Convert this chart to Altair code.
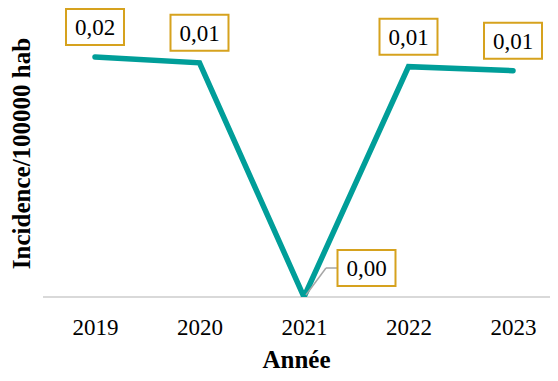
import altair as alt
import pandas as pd

years = ["2019", "2020", "2021", "2022", "2023"]
incidence = [0.0151, 0.01473, 0.0, 0.01449, 0.01424]

df = pd.DataFrame({"annee": years, "incidence": incidence})

FONT = "Liberation Serif"
TEAL = "#009E99"
GOLD = "#D6A21E"
BOX = "M-1.611,-1L1.611,-1L1.611,1L-1.611,1Z"

x = alt.X(
    "annee:N",
    scale=alt.Scale(type="point", range=[52, 470], padding=0),
    axis=alt.Axis(
        title="Année", labelAngle=0, ticks=False, tickSize=0, grid=False, domain=False,
        labelFont=FONT, labelFontSize=23, labelColor="black",
        labelPadding=37, labelBaseline="alphabetic",
        titleFont=FONT, titleFontSize=25, titleFontWeight="bold", titleColor="black",
        titleBaseline="alphabetic", titleY=70, titleX=253,
    ),
)
y = alt.Y(
    "incidence:Q",
    scale=alt.Scale(domain=[0, 0.01818], nice=False, zero=True),
    axis=alt.Axis(
        title="Incidence/100000 hab", labels=False, ticks=False, domain=False, grid=False,
        titleFont=FONT, titleFontSize=25, titleFontWeight="bold", titleColor="black",
        titleAngle=270, titleBaseline="middle", titleAlign="center", titleX=-22, titleY=145,
    ),
)

base = alt.Chart(df).encode(x=x, y=y).transform_calculate(
    lab="replace(format(datum.incidence, '.2f'), '.', ',')"
)

baseline = alt.Chart(df).mark_rule(color="#d9d9d9", strokeWidth=1.5).encode(
    x=alt.value(0), x2=alt.value(515), y=alt.value(289)
)

line = base.mark_line(color=TEAL, strokeWidth=5.5, strokeCap="round", clip=True)

others = base.transform_filter("datum.annee != '2021'")
zero = base.transform_filter("datum.annee == '2021'")

boxes = others.mark_point(
    shape=BOX, size=1296, filled=True, fill="white", stroke=GOLD,
    strokeWidth=2, opacity=1, fillOpacity=1, strokeOpacity=1, yOffset=-30,
)
texts = others.mark_text(
    font=FONT, fontSize=23, color="black", baseline="middle", align="center", yOffset=-29
).encode(text="lab:N")

lead1 = zero.mark_rule(
    color="#a6a6a6", strokeWidth=1.5, xOffset=2, yOffset=-2, x2Offset=22, y2Offset=-29
).encode(x2=alt.X2("annee:N"), y2=alt.Y2("incidence:Q"))
lead2 = zero.mark_rule(
    color="#a6a6a6", strokeWidth=1.5, xOffset=22, yOffset=-29, x2Offset=34, y2Offset=-29
).encode(x2=alt.X2("annee:N"), y2=alt.Y2("incidence:Q"))

zbox = zero.mark_point(
    shape=BOX, size=1296, filled=True, fill="white", stroke=GOLD,
    strokeWidth=2, opacity=1, fillOpacity=1, strokeOpacity=1, xOffset=62.5, yOffset=-29,
)
ztext = zero.mark_text(
    font=FONT, fontSize=23, color="black", baseline="middle", align="center",
    xOffset=62.5, yOffset=-28,
).encode(text="lab:N")

chart = (
    alt.layer(baseline, line, lead1, lead2, boxes, texts, zbox, ztext)
    .properties(
        width=507, height=289,
        autosize=alt.AutoSizeParams(type="none"),
        padding={"left": 35, "top": 0, "right": 0, "bottom": 76},
        background="white",
    )
    .configure_view(stroke=None)
)

chart.save("out.html", embed_options={"renderer": "svg", "actions": False})
